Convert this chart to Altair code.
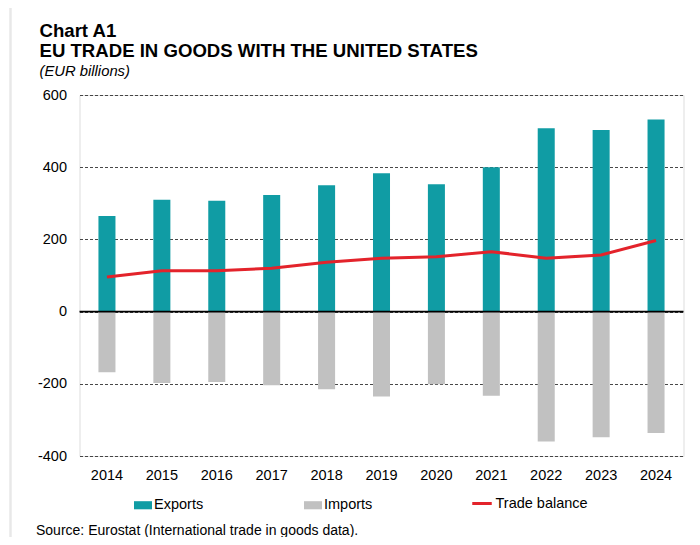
import altair as alt
import pandas as pd

years = ["2014", "2015", "2016", "2017", "2018", "2019", "2020", "2021", "2022", "2023", "2024"]
exports = [265, 310, 307, 323, 350, 383, 353, 400, 508, 503, 532]
imports = [-168, -198, -195, -204, -215, -235, -201, -233, -360, -348, -336]
balance = [96, 113, 113, 120, 137, 148, 152, 166, 148, 157, 197]
bar_series = ["Exports", "Imports"]
bar_colors = ["#109ca4", "#c1c1c1"]
line_series = ["Trade balance"]
line_colors = ["#e3232b"]
y_ticks = [-400, -200, 0, 200, 400, 600]
title_line1 = "Chart A1"
title_line2 = "EU TRADE IN GOODS WITH THE UNITED STATES"
subtitle_text = "(EUR billions)"
source_text = "Source: Eurostat (International trade in goods data)."

FONT = "Liberation Sans"

rows = []
for i, yr in enumerate(years):
    rows.append({"year": yr, "series": "Exports", "value": exports[i]})
    rows.append({"year": yr, "series": "Imports", "value": imports[i]})
    rows.append({"year": yr, "series": "Trade balance", "value": balance[i]})
df = pd.DataFrame(rows)

legend_common = dict(
    title=None,
    orient="none",
    direction="horizontal",
    labelFont=FONT,
    labelFontSize=14.5,
    labelColor="#000",
    labelOffset=2,
)

fill = alt.Fill(
    "series:N",
    scale=alt.Scale(domain=bar_series, range=bar_colors),
    legend=alt.Legend(
        legendX=54.5,
        legendY=401,
        columns=2,
        gridAlign="all",
        columnPadding=100,
        symbolSize=324,
        symbolType="M-1,-0.45H1V0.45H-1Z",
        symbolStrokeWidth=0,
        symbolOpacity=1,
        **legend_common,
    ),
)

stroke = alt.Stroke(
    "series:N",
    scale=alt.Scale(domain=line_series, range=line_colors),
    legend=alt.Legend(
        legendX=391,
        legendY=397,
        symbolType="stroke",
        symbolSize=380,
        symbolStrokeWidth=3,
        **legend_common,
    ),
)

x = alt.X(
    "year:N",
    sort=years,
    scale=alt.Scale(paddingInner=0.69, paddingOuter=0.345),
    axis=alt.Axis(
        title=None,
        labelAngle=0,
        domain=False,
        ticks=False,
        labelPadding=12,
        labelFont=FONT,
        labelFontSize=14.5,
        labelColor="#000",
    ),
)

y = alt.Y(
    "value:Q",
    scale=alt.Scale(domain=[-400, 600], nice=False, zero=False),
    axis=alt.Axis(
        title=None,
        values=y_ticks,
        labelExpr="'' + datum.value",
        domain=False,
        ticks=False,
        labelPadding=13,
        labelFont=FONT,
        labelFontSize=14.5,
        labelColor="#000",
        grid=True,
        gridDash=[3, 2],
        gridColor="#333333",
        gridWidth=0.9,
    ),
)

base = alt.Chart(df)

bars = base.transform_filter(
    alt.FieldOneOfPredicate(field="series", oneOf=bar_series)
).mark_bar().encode(x=x, y=y, fill=fill)

line = base.transform_filter(
    alt.FieldOneOfPredicate(field="series", oneOf=line_series)
).mark_line(strokeWidth=3).encode(x=x, y=y, stroke=stroke)

zero = alt.Chart(pd.DataFrame({"z": [0]})).mark_rule(color="#000", strokeWidth=1.6).encode(
    y=alt.Y("z:Q")
)


def text_layer(txt, xpos, ypos, size, weight="normal", style="normal"):
    return alt.Chart(pd.DataFrame({"t": [txt]})).mark_text(
        align="left", baseline="alphabetic", font=FONT, fontSize=size,
        fontWeight=weight, fontStyle=style, color="#000",
    ).encode(text="t:N", x=alt.value(xpos), y=alt.value(ypos))


t1 = text_layer(title_line1, -40, -58, 18.6, weight="bold")
t2 = text_layer(title_line2, -40, -38, 18.6, weight="bold")
t3 = text_layer(subtitle_text, -40, -19, 14.8, style="italic")
source = text_layer(source_text, -43.5, 440, 14)

frame_left = alt.Chart(pd.DataFrame({"a": [0]})).mark_rule(color="#e8e8e8", strokeWidth=2.5).encode(
    x=alt.value(-69), y=alt.value(-89), y2=alt.value(460)
)
frame_top = alt.Chart(pd.DataFrame({"a": [0]})).mark_rule(color="#e8e8e8", strokeWidth=2.5).encode(
    x=alt.value(-69), x2=alt.value(630), y=alt.value(-89)
)

chart = alt.layer(frame_left, frame_top, bars, zero, line, t1, t2, t3, source).properties(
    width=604,
    height=361,
    autosize=alt.AutoSizeParams(type="none"),
    padding={"left": 71.5, "top": 87, "right": 8, "bottom": 81},
).resolve_scale(fill="independent", stroke="independent").configure_view(stroke=None).configure(background="white")

chart.save("out.html", embed_options={"renderer": "svg", "actions": False})
